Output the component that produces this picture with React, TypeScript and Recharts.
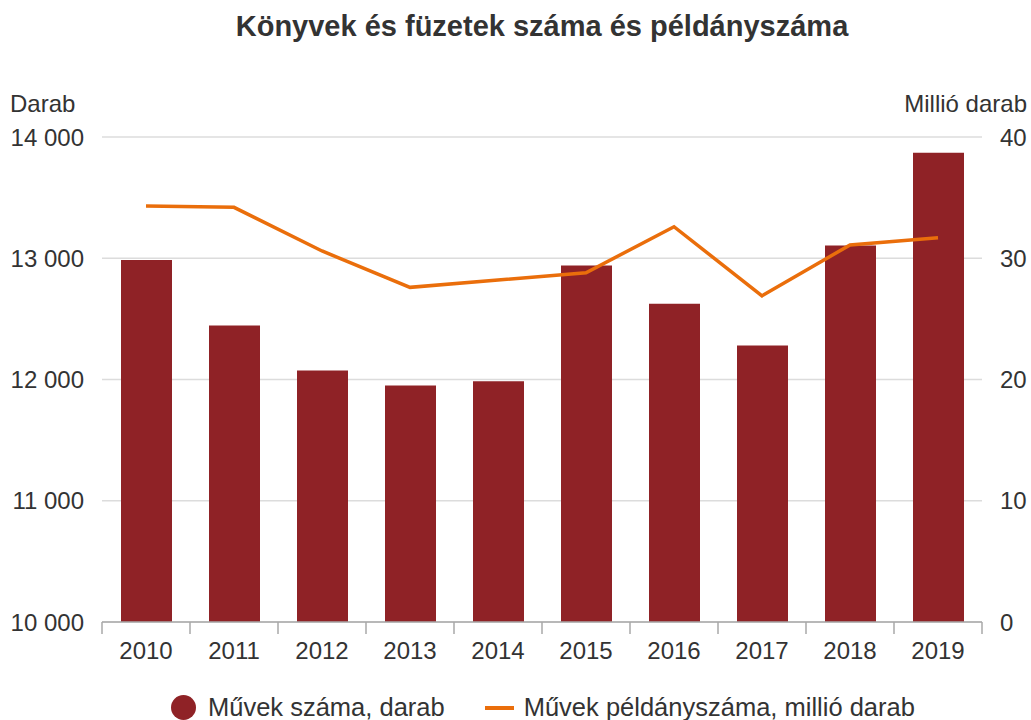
import React from 'react';
import { ComposedChart, Bar, Line, XAxis, YAxis, CartesianGrid } from 'recharts';

const years = ['2010', '2011', '2012', '2013', '2014', '2015', '2016', '2017', '2018', '2019'];
const works = [12985, 12445, 12075, 11950, 11985, 12940, 12625, 12280, 13105, 13870];
const copies = [34.3, 34.2, 30.6, 27.6, 28.2, 28.8, 32.6, 26.9, 31.1, 31.7];
const leftTicks = [10000, 11000, 12000, 13000, 14000];
const rightTicks = [0, 10, 20, 30, 40];

const data = years.map((year, i) => ({ year, works: works[i], copies: copies[i] }));

const FONT = '"Liberation Sans", Arial, sans-serif';
const TEXT = '#333333';
const BAR = '#8f2226';
const LINE = '#ea6e0b';
const AXIS = '#a8a8a8';

const thousands = (v: number) => String(v).replace(/\B(?=(\d{3})+(?!\d))/g, ' ');

const YearTick = (props: any) => {
  const { x, y, payload, index, visibleTicksCount } = props;
  const half = payload && payload.offset ? payload.offset : 44;
  const last = index === visibleTicksCount - 1;
  return (
    <g>
      <line x1={x - half} x2={x - half} y1={y - 20} y2={y - 8} stroke={AXIS} strokeWidth={1.5} />
      {last && <line x1={x + half} x2={x + half} y1={y - 20} y2={y - 8} stroke={AXIS} strokeWidth={1.5} />}
      <text x={x} y={y} dy="0.71em" textAnchor="middle" fill={TEXT} fontSize={24} fontFamily={FONT}>
        {payload.value}
      </text>
    </g>
  );
};

const tickStyle = { fill: TEXT, fontSize: 24, fontFamily: FONT };

export default function App() {
  return (
    <div style={{ position: 'relative', width: 1031, height: 720, background: '#fff', fontFamily: FONT, color: TEXT }}>
      <style>{'body{margin:0}'}</style>
      <div style={{ position: 'absolute', left: 102, width: 880, top: 12, textAlign: 'center', fontSize: 29, lineHeight: '29px', fontWeight: 'bold', color: TEXT }}>
        Könyvek és füzetek száma és példányszáma
      </div>
      <div style={{ position: 'absolute', left: 10, top: 92, fontSize: 24, lineHeight: '24px' }}>Darab</div>
      <div style={{ position: 'absolute', right: 4, top: 92, fontSize: 24, lineHeight: '24px' }}>Millió darab</div>

      <ComposedChart width={1031} height={720} data={data} margin={{ top: 137, right: 0, bottom: 58, left: 0 }}>
        <CartesianGrid vertical={false} stroke="#dcdcdc" strokeWidth={1.5} yAxisId="left" />
        <XAxis
          dataKey="year"
          height={40}
          axisLine={{ stroke: AXIS, strokeWidth: 1.5 }}
          tickLine={false}
          tickSize={8}
          tickMargin={12}
          interval={0}
          tick={<YearTick />}
        />
        <YAxis
          yAxisId="left"
          width={102}
          domain={[10000, 14000]}
          ticks={leftTicks}
          tickFormatter={thousands}
          axisLine={false}
          tickLine={false}
          tickSize={6}
          tickMargin={12}
          tick={tickStyle}
        />
        <YAxis
          yAxisId="right"
          orientation="right"
          width={49}
          domain={[0, 40]}
          ticks={rightTicks}
          axisLine={false}
          tickLine={false}
          tickSize={6}
          tickMargin={12}
          tick={{ ...tickStyle, textAnchor: 'start' }}
        />
        <Bar yAxisId="left" dataKey="works" fill={BAR} barSize={51} isAnimationActive={false} />
        <Line
          yAxisId="right"
          type="linear"
          dataKey="copies"
          stroke={LINE}
          strokeWidth={3.5}
          dot={false}
          activeDot={false}
          isAnimationActive={false}
        />
      </ComposedChart>

      <div style={{ position: 'absolute', left: 171, top: 695, display: 'flex', alignItems: 'center', fontSize: 25.5, lineHeight: '25px' }}>
        <span style={{ width: 25, height: 25, borderRadius: '50%', background: BAR, marginRight: 12 }} />
        <span>Művek száma, darab</span>
        <span style={{ width: 29, height: 4, background: LINE, marginLeft: 40, marginRight: 10 }} />
        <span>Művek példányszáma, millió darab</span>
      </div>
    </div>
  );
}
